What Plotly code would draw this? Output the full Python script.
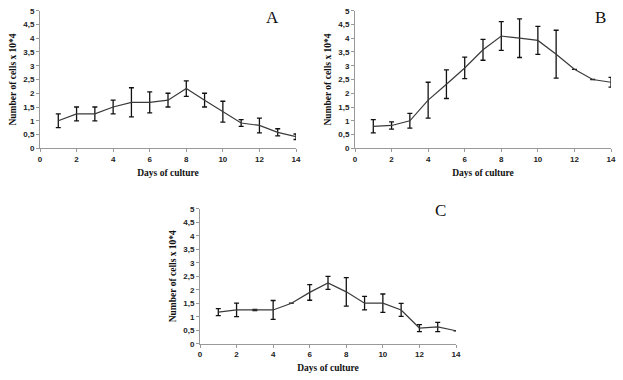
import plotly.graph_objects as go

days = list(range(1, 15))

a_mean = [1.0, 1.25, 1.25, 1.5, 1.67, 1.67, 1.75, 2.17, 1.75, 1.33, 0.92, 0.83, 0.58, 0.42]
a_err = [0.25, 0.25, 0.25, 0.25, 0.53, 0.38, 0.25, 0.28, 0.25, 0.38, 0.12, 0.27, 0.13, 0.1]

b_mean = [0.8, 0.83, 1.0, 1.75, 2.33, 2.92, 3.58, 4.08, 4.0, 3.92, 3.42, 2.87, 2.5, 2.4]
b_err = [0.24, 0.13, 0.27, 0.65, 0.52, 0.39, 0.38, 0.52, 0.7, 0.51, 0.87, 0.0, 0.0, 0.18]

c_mean = [1.17, 1.25, 1.25, 1.25, 1.5, 1.9, 2.25, 1.92, 1.5, 1.5, 1.25, 0.58, 0.62, 0.48]
c_err = [0.13, 0.25, 0.02, 0.35, 0.0, 0.29, 0.24, 0.53, 0.25, 0.34, 0.24, 0.13, 0.17, 0.0]

panel_letters = ["A", "B", "C"]
y_tickvals = [0, 0.5, 1, 1.5, 2, 2.5, 3, 3.5, 4, 4.5, 5]
y_ticktext = ["0", "0,5", "1", "1,5", "2", "2,5", "3", "3,5", "4", "4,5", "5"]
x_tickvals = [0, 2, 4, 6, 8, 10, 12, 14]
x_title = "Days of culture"
y_title = "Number of cells x 10*4"

W, H = 623, 380

def px_x(p):
    return p / W

def px_y(p):
    return 1 - p / H

# panel geometry in pixels: (left, right, top, bottom)
panels = [
    (40, 296, 10.7, 148.3),
    (355, 611, 10.7, 148.3),
    (200, 456, 208.7, 343.7),
]
series = [(a_mean, a_err), (b_mean, b_err), (c_mean, c_err)]
letter_pos = [(272, 17), (600, 17), (440, 210)]

fig = go.Figure()
tick_font = dict(family="Liberation Sans", size=8, color="#222222", weight="bold")
title_font = dict(family="Liberation Serif", size=9.5, color="#111111", weight="bold")

for i, ((mean, err), (l, r, t, b)) in enumerate(zip(series, panels)):
    sfx = "" if i == 0 else str(i + 1)
    fig.add_trace(go.Scatter(
        x=days, y=mean, mode="lines",
        line=dict(color="#3a3a3a", width=1.2),
        error_y=dict(type="data", array=err, visible=True, color="#111111",
                     thickness=1.3, width=2.5),
        xaxis="x" + sfx, yaxis="y" + sfx, showlegend=False,
    ))
    xa = dict(
        domain=[px_x(l), px_x(r)], range=[0, 14], anchor="y" + sfx,
        tickvals=x_tickvals, ticks="outside", ticklen=3, tickcolor="#999999",
        showline=True, linecolor="#999999", linewidth=1, showgrid=False,
        zeroline=False, tickfont=tick_font, automargin=False,
        title=dict(text=x_title, font=title_font, standoff=6),
    )
    ya = dict(
        domain=[px_y(b), px_y(t)], range=[0, 5], anchor="x" + sfx,
        tickvals=y_tickvals, ticktext=y_ticktext, ticks="outside", ticklen=3,
        tickcolor="#999999", showline=True, linecolor="#999999", linewidth=1,
        showgrid=False, zeroline=False, tickfont=tick_font, automargin=False,
        title=dict(text=y_title, font=title_font, standoff=4),
    )
    fig.layout["xaxis" + sfx] = xa
    fig.layout["yaxis" + sfx] = ya
    lx, ly = letter_pos[i]
    fig.add_annotation(
        text=panel_letters[i], x=px_x(lx), y=px_y(ly), xref="paper", yref="paper",
        showarrow=False, xanchor="center", yanchor="middle",
        font=dict(family="Liberation Serif", size=17, color="#111111"),
    )

fig.update_layout(
    width=W, height=H, margin=dict(l=0, r=0, t=0, b=0, autoexpand=False),
    paper_bgcolor="white", plot_bgcolor="white",
)

fig.write_html(
    "out.html",
    config={"displayModeBar": False},
    post_script="document.body.style.margin='0';document.body.style.overflow='hidden';",
)
